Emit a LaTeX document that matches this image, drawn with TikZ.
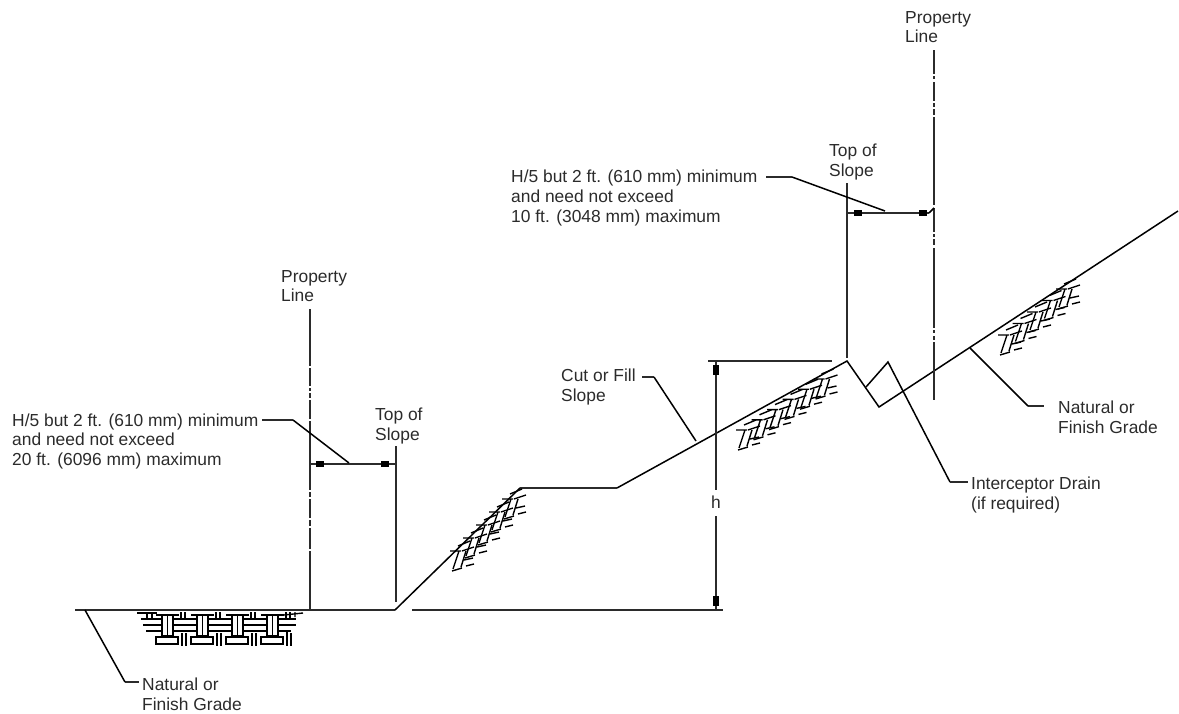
\documentclass[tikz,border=0pt]{standalone}
\usepackage{fontspec}
\setmainfont{Liberation Sans}
\definecolor{ink}{HTML}{2B2B2B}
\tikzset{
	lbl/.style={anchor=north west, align=left, inner sep=0pt, text=ink, font=\fontsize{17.4}{19.6}\selectfont},
	heavy/.style={draw=ink, line width=2.2pt},
	soil/.style={draw=black, line width=1.4pt},
	leader/.style={draw=black, line width=1.5pt},
	tickmark/.style={fill=black, draw=none}
}
% short strokes of one hatch cell, y grows downward
\newcommand{\hatchcell}[2]{
	\draw [soil] (#1,#2)--(#1+6,#2-18) (#1-3,#2-18)--(#1+8,#2-18);
	\draw [soil] (#1+8,#2-2)--(#1+13,#2-18) (#1-1,#2+2)--(#1+9,#2-1);
	\draw [soil] (#1+11,#2-9)--(#1+20,#2-11) (#1+13,#2-3)--(#1+21,#2-5);
	\draw [soil] (#1+5,#2-23)--(#1+17,#2-28) (#1+9,#2-18)--(#1+21,#2-22);
}
\newcommand{\tickbox}[2]{\fill [tickmark] (#1-4,#2-3) rectangle (#1+4,#2+3);}
\begin{document}
\begin{tikzpicture}[x=1pt,y=-1pt]
	\useasboundingbox (0,0) rectangle (1179,713);
	% ground profile
	\coordinate (toeA) at (395,610);
	\coordinate (benchA) at (520,488);
	\coordinate (benchB) at (617,488);
	\coordinate (crest) at (847,361);
	\coordinate (ditch) at (879,407);
	\coordinate (gradeEnd) at (1178,211);
	\coordinate (gradeHit) at (970,348);
	\coordinate (drainTop) at (888,362);
	\coordinate (drainFoot) at (866,387);
	\coordinate (drainBend) at (950,482);
	\draw [heavy] (75,610)--(toeA);
	\draw [leader] (toeA)--(benchA);
	\draw [heavy] (benchA)--(benchB);
	\draw [leader] (benchB)--(crest)--(ditch)--(gradeEnd);
	\draw [leader] (drainFoot)--(drainTop)--(drainBend);
	\draw [heavy] (412,610)--(723,610);
	% property lines
	\foreach \a/\b in {309/366,368/386,388/391,393/398,400/419,421/490,492/497,499/518,520/526,528/549,551/610}
		\draw [heavy] (310,\a)--(310,\b);
	\foreach \a/\b in {50/74,76/79,82/101,103/107,109/115,117/205,208/232,234/237,239/245,248/328,330/333,336/340,342/400}
		\draw [heavy] (934,\a)--(934,\b);
	% top of slope lines and widths
	\draw [heavy] (396,446)--(396,602);
	\draw [heavy] (847,183)--(847,358);
	\draw [heavy] (311,464)--(396,464);
	\draw [heavy] (848,213)--(929,213);
	\draw [leader] (929,213)--(934,208);
	\tickbox{320}{464}
	\tickbox{385}{464}
	\tickbox{858}{213}
	\tickbox{923}{213}
	% height
	\draw [heavy] (708,361)--(832,361);
	\draw [heavy] (716,361)--(716,490);
	\draw [heavy] (716,516)--(716,610);
	\fill [tickmark] (713,365) rectangle (719,375);
	\fill [tickmark] (713,596) rectangle (719,606);
	% labels
	\node [lbl] (propA) at (281,270) {Property\\Line};
	\node [lbl] (propB) at (905,11) {Property\\Line};
	\node [lbl] (widthA) at (12,413.5) {H/5 but 2 ft. (610 mm) minimum\\and need not exceed\\20 ft. (6096 mm) maximum};
	\node [lbl] (widthB) at (511,170) {H/5 but 2 ft. (610 mm) minimum\\and need not exceed\\10 ft. (3048 mm) maximum};
	\node [lbl] (topA) at (375,408) {Top of\\Slope};
	\node [lbl] (topB) at (829,144) {Top of\\Slope};
	\node [lbl] (cutfill) at (561,369) {Cut or Fill\\Slope};
	\node [lbl] (natA) at (142,678) {Natural or\\Finish Grade};
	\node [lbl] (natB) at (1058,401) {Natural or\\Finish Grade};
	\node [lbl] (drain) at (971,477) {Interceptor Drain\\(if required)};
	\node [lbl, anchor=center] (height) at (716,502) {h};
	% leaders
	\draw [heavy] (262,420)--(293,420);
	\draw [leader] (293,420)--(349,463);
	\draw [heavy] (766,177)--(792,177);
	\draw [leader] (792,177)--(885,211);
	\draw [heavy] (642,377)--(654,377);
	\draw [leader] (654,377)--(696,441);
	\draw [heavy] (1028,406)--(1044,406);
	\draw [leader] (gradeHit)--(1028,406);
	\draw [heavy] (125,682)--(139,682);
	\draw [leader] (85,610)--(125,682);
	\draw [heavy] (drainBend)--(968,482);
	% woven soil under the flat ground
	\foreach \x in {163,198,233,268} {
		\draw [soil] (\x-1,615) rectangle (\x+10,636);
		\draw [soil] (\x+4.5,615)--(\x+4.5,636);
		\draw [soil] (\x-7,615)--(\x+16,615);
		\draw [soil] (\x-7,637) rectangle (\x+15,644);
		\draw [soil] (\x+18,612)--(\x+18,619) (\x+22,612)--(\x+22,619);
		\draw [soil] (\x+19,633)--(\x+19,646) (\x+23,633)--(\x+23,646);
	}
	\foreach \x in {173,208,243} {
		\draw [soil] (\x,619)--(\x+24,619) (\x,625)--(\x+24,625) (\x,631)--(\x+24,631);
	}
	\draw [soil] (137,613)--(157,613) (141,619)--(162,619) (143,625)--(162,625) (146,631)--(162,631);
	\draw [soil] (278,619)--(296,619) (278,625)--(296,625) (278,631)--(291,631);
	\draw [soil] (147,612)--(147,619) (152,612)--(152,619) (287,632)--(287,640);
	\draw [soil] (295,612)--(295,617) (284,615)--(303,613);
	% hatching along the slopes
	\foreach \n in {0,...,5} {
		\hatchcell{739+15.5*\n}{448-10.2*\n}
	}
	\foreach \n in {0,...,4} {
		\hatchcell{1001+14.5*\n}{353-11.5*\n}
	}
	\foreach \n in {0,...,4} {
		\hatchcell{453+13*\n}{569-13*\n}
	}
\end{tikzpicture}
\end{document}
